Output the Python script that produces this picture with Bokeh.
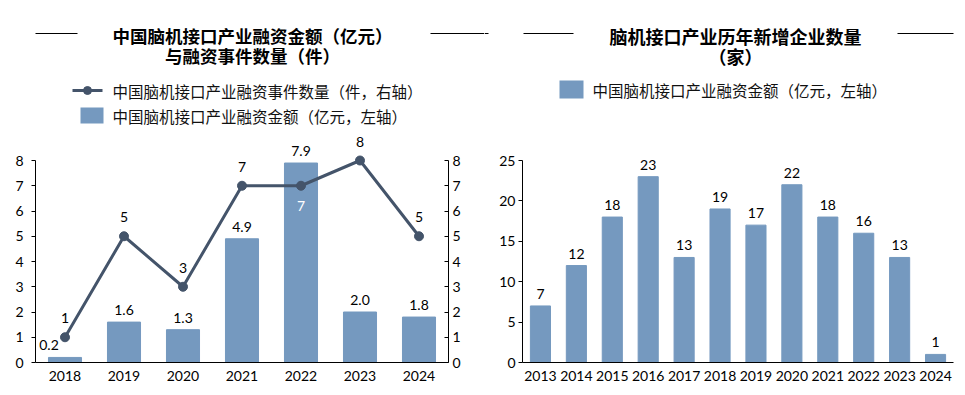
from bokeh.plotting import figure
from bokeh.models import Range1d, FactorRange, LinearAxis, FixedTicker
from bokeh.layouts import column, row
from bokeh.core.properties import value
from bokeh.embed import file_html
from bokeh.resources import INLINE

# ---------------- data ----------------
years1 = ["2018", "2019", "2020", "2021", "2022", "2023", "2024"]
amount = [0.2, 1.6, 1.3, 4.9, 7.9, 2.0, 1.8]
amount_labels = ["0.2", "1.6", "1.3", "4.9", "7.9", "2.0", "1.8"]
events = [1, 5, 3, 7, 7, 8, 5]

years2 = ["2013", "2014", "2015", "2016", "2017", "2018",
          "2019", "2020", "2021", "2022", "2023", "2024"]
new_firms = [7, 12, 18, 23, 13, 19, 17, 22, 18, 16, 13, 1]

title1 = ["中国脑机接口产业融资金额（亿元）", "与融资事件数量（件）"]
legend1 = ["中国脑机接口产业融资事件数量（件，右轴）", "中国脑机接口产业融资金额（亿元，左轴）"]
title2 = ["脑机接口产业历年新增企业数量", "（家）"]
legend2 = ["中国脑机接口产业融资金额（亿元，左轴）"]

left_ticks = [0, 1, 2, 3, 4, 5, 6, 7, 8]
right_ticks = [0, 5, 10, 15, 20, 25]

BAR = "#7599BF"
LINE = "#44546A"
CJK = "Noto Sans CJK SC"
NUM = "Lato"

W1, W2 = 484, 481
HH = 130      # header height
HM = 265      # main chart height
STRETCH = 232 / 202   # frame height / axis height


def header(width):
    h = figure(width=width, height=HH, x_range=Range1d(0, width), y_range=Range1d(HH, 0),
               x_axis_location=None, y_axis_location=None, toolbar_location=None,
               output_backend="svg", min_border=0, outline_line_color=None)
    h.grid.visible = False
    return h


def title_text(h, x, lines, size):
    for i, t in enumerate(lines):
        h.text(x=[x], y=[35 + 20 * i], text=[t], text_font=value(CJK), text_font_size=size,
               text_font_style="bold", text_align="center", text_baseline="middle",
               text_color="black")


def legend_text(h, x, y, t):
    h.text(x=[x], y=[y], text=[t], text_font=value(CJK), text_font_size="15.5px",
           text_align="left", text_baseline="middle", text_color="#111111")


# ---------------- header 1 ----------------
h1 = header(W1)
title_text(h1, 252, title1, "17.5px")
h1.segment(x0=[35, 430], y0=[33, 33], x1=[77, 484], y1=[33, 33], line_color="black", line_width=1)
h1.line(x=[72, 102], y=[90, 90], line_color=LINE, line_width=3)
h1.scatter(x=[87], y=[90], size=8, color=LINE)
legend_text(h1, 112, 90, legend1[0])
h1.quad(left=[80], right=[103], top=[107], bottom=[123], fill_color=BAR, line_color=None)
legend_text(h1, 112, 115, legend1[1])

# ---------------- header 2 ----------------
h2 = header(W2)
title_text(h2, 251, title2, "18px")
h2.segment(x0=[0, 39, 413], y0=[33, 33, 33], x1=[4, 89, 469], y1=[33, 33, 33],
           line_color="black", line_width=1)
h2.quad(left=[75], right=[99], top=[80], bottom=[98], fill_color=BAR, line_color=None)
legend_text(h2, 108, 89, legend2[0])


def style_y(ax, standoff, tin=0, tout=4):
    ax.axis_line_color = "black"
    ax.major_tick_line_color = "black"
    ax.major_tick_in = tin
    ax.major_tick_out = tout
    ax.minor_tick_line_color = None
    ax.major_label_standoff = standoff
    ax.major_label_text_font = NUM
    ax.major_label_text_font_size = "14px"
    ax.major_label_text_color = "black"


def style_x(ax):
    ax.axis_line_color = "black"
    ax.major_tick_line_color = None
    ax.major_tick_in = 0
    ax.major_tick_out = 0
    ax.minor_tick_line_color = None
    ax.major_label_standoff = 8
    ax.major_label_text_font = NUM
    ax.major_label_text_font_size = "14px"
    ax.major_label_text_color = "black"


# ---------------- chart 1 ----------------
# the value range is stretched above the top tick so that labels above the
# top stay visible, while the axes themselves stop at the top tick
top1 = left_ticks[-1] * STRETCH
p1 = figure(width=W1, height=HM, x_range=FactorRange(*years1), y_range=Range1d(0, top1),
            toolbar_location=None, output_backend="svg", outline_line_color=None,
            min_border_left=35, min_border_right=36, min_border_top=0, min_border_bottom=33)
p1.extra_y_ranges = {"right": Range1d(0, top1)}
p1.add_layout(LinearAxis(y_range_name="right"), "right")
p1.grid.visible = False
for ax in p1.yaxis:
    ax.ticker = FixedTicker(ticks=left_ticks)
    ax.bounds = (0, left_ticks[-1])
style_y(p1.yaxis[0], 8)
style_y(p1.yaxis[1], 4, tin=4, tout=0)
style_x(p1.xaxis[0])

p1.vbar(x=years1, top=amount, width=0.56, color=BAR)
p1.line(x=years1, y=events, y_range_name="right", line_color=LINE, line_width=3)
p1.scatter(x=years1, y=events, y_range_name="right", size=9, color=LINE)

bar_xoff = [0] * len(years1)
bar_xoff[0] = -16
p1.text(x=years1, y=amount, text=amount_labels, x_offset=bar_xoff, y_offset=-12,
        text_font=value(NUM), text_font_size="14px", text_align="center",
        text_baseline="middle", text_color="black")

ev_yoff = [-19] * len(years1)
ev_col = ["black"] * len(years1)
ev_yoff[4] = 20
ev_col[4] = "white"
p1.text(x=years1, y=events, text=[str(v) for v in events], y_range_name="right",
        y_offset=ev_yoff, text_color=ev_col, text_font=value(NUM), text_font_size="14px",
        text_align="center", text_baseline="middle")

# ---------------- chart 2 ----------------
top2 = right_ticks[-1] * STRETCH
p2 = figure(width=W2, height=HM, x_range=FactorRange(*years2), y_range=Range1d(0, top2),
            toolbar_location=None, output_backend="svg", outline_line_color=None,
            min_border_left=38, min_border_right=12, min_border_top=0, min_border_bottom=33)
p2.grid.visible = False
p2.yaxis[0].ticker = FixedTicker(ticks=right_ticks)
p2.yaxis[0].bounds = (0, right_ticks[-1])
style_y(p2.yaxis[0], 3)
style_x(p2.xaxis[0])

p2.vbar(x=years2, top=new_firms, width=0.56, color=BAR)
p2.text(x=years2, y=new_firms, text=[str(v) for v in new_firms], y_offset=-12,
        text_font=value(NUM), text_font_size="14px", text_align="center",
        text_baseline="middle", text_color="black")

layout = column(row(h1, h2), row(p1, p2))
open("out.html", "w").write(file_html(layout, INLINE))
